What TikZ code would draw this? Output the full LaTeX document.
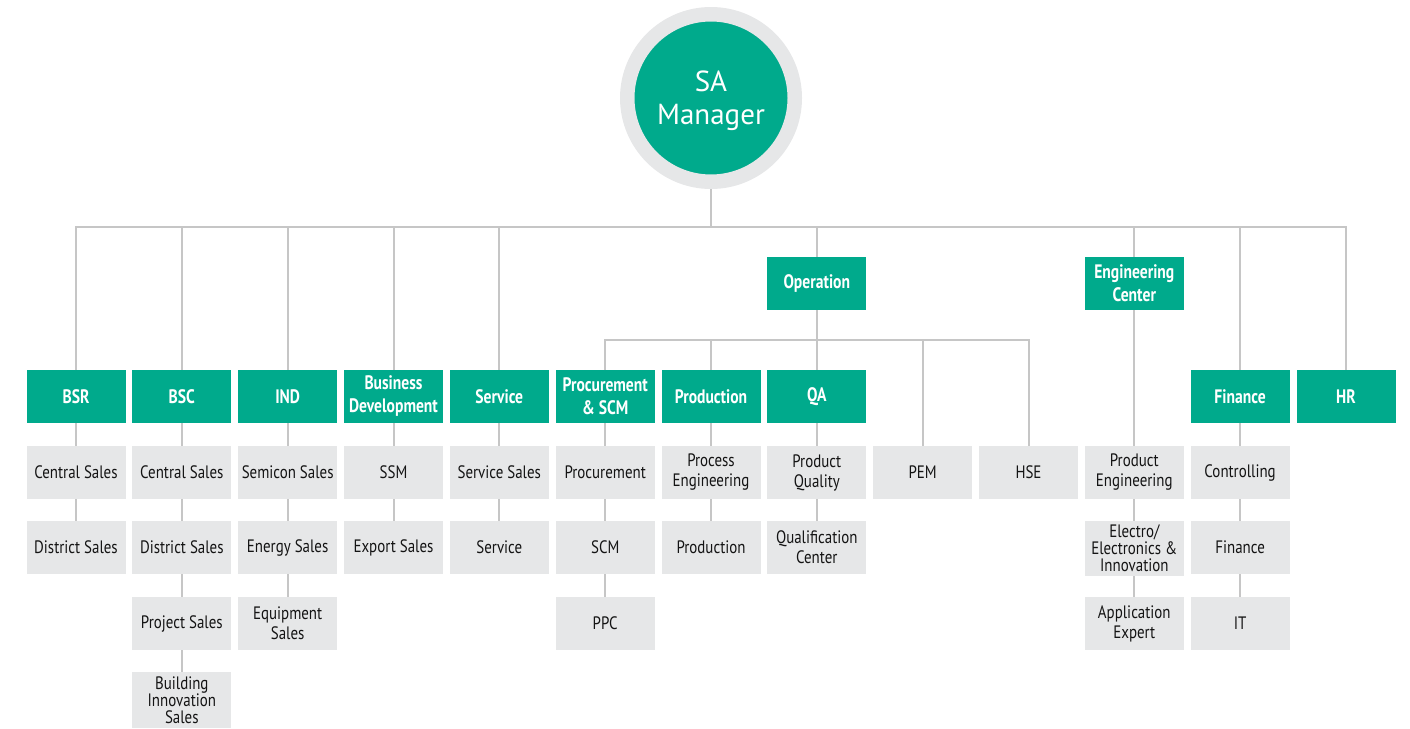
\documentclass[tikz,border=0pt]{standalone}
\usepackage{fontspec}
\setmainfont{PT Sans}
\newfontfamily\boxfont{PT Sans}[FakeStretch=0.83]
\newfontfamily\hdrfont{PT Sans Bold}[FakeStretch=0.8]
\definecolor{sgreen}{HTML}{00AA8C}
\definecolor{sgray}{HTML}{E6E7E8}
\definecolor{sline}{HTML}{C6C6C6}
\definecolor{stext}{HTML}{141414}
\begin{document}
\begin{tikzpicture}[x=1pt,y=-1pt,
  hdr/.style={rectangle, fill=sgreen, text=white, font=\hdrfont\fontsize{19.5}{23}\selectfont,
    minimum width=99pt, minimum height=53pt, inner sep=0pt, outer sep=0pt, align=center},
  sub/.style={rectangle, fill=sgray, text=stext, font=\boxfont\fontsize{18}{20}\selectfont,
    minimum width=99pt, minimum height=53pt, inner sep=0pt, outer sep=0pt, align=center},
  tight/.style={font=\boxfont\fontsize{18}{17}\selectfont},
  conn/.style={draw=sline, line width=2pt}]
\useasboundingbox (0,0) rectangle (1410,728);

\node[circle, fill=sgreen, draw=sgray, line width=14.5pt, minimum size=167.5pt, inner sep=0pt,
  outer sep=7.25pt] (sa) at (711,98) {};
\node[text=white, align=center, font=\fontsize{29}{33}\selectfont, inner sep=0pt] (satext) at (711,101) {SA\\Manager};

% column 0
\node[hdr] (bsr) at (76,396.5) {BSR};
\node[sub] (bsr1) at (76,472.5) {Central Sales};
\node[sub] (bsr2) at (76,547.5) {District Sales};
% column 1
\node[hdr] (bsc) at (181.83,396.5) {BSC};
\node[sub] (bsc1) at (181.83,472.5) {Central Sales};
\node[sub] (bsc2) at (181.83,547.5) {District Sales};
\node[sub] (bsc3) at (181.83,623.5) {Project Sales};
\node[sub, tight, minimum height=56pt] (bsc4) at (181.83,700) {Building\\Innovation\\Sales};
% column 2
\node[hdr] (ind) at (287.66,396.5) {IND};
\node[sub] (ind1) at (287.66,472.5) {Semicon Sales};
\node[sub] (ind2) at (287.66,547.5) {Energy Sales};
\node[sub] (ind3) at (287.66,623.5) {Equipment\\Sales};
% column 3
\node[hdr] (bd) at (393.5,396.5) {Business\\Development};
\node[sub] (bd1) at (393.5,472.5) {SSM};
\node[sub] (bd2) at (393.5,547.5) {Export Sales};
% column 4
\node[hdr] (svc) at (499.3,396.5) {Service};
\node[sub] (svc1) at (499.3,472.5) {Service Sales};
\node[sub] (svc2) at (499.3,547.5) {Service};
% operation
\node[hdr] (op) at (816.8,283.5) {Operation};
\node[hdr] (pro) at (605.2,396.5) {Procurement\\\& SCM};
\node[sub] (pro1) at (605.2,472.5) {Procurement};
\node[sub] (pro2) at (605.2,547.5) {SCM};
\node[sub] (pro3) at (605.2,623.5) {PPC};
\node[hdr] (prd) at (711,396.5) {Production};
\node[sub] (prd1) at (711,472.5) {Process\\Engineering};
\node[sub] (prd2) at (711,547.5) {Production};
\node[hdr] (qa) at (816.8,396.5) {QA};
\node[sub] (qa1) at (816.8,472.5) {Product\\Quality};
\node[sub] (qa2) at (816.8,547.5) {Qualification\\Center};
\node[sub] (pem) at (922.6,472.5) {PEM};
\node[sub] (hse) at (1028.5,472.5) {HSE};
% engineering center
\node[hdr] (ec) at (1134.3,283.5) {Engineering\\Center};
\node[sub] (ec1) at (1134.3,472.5) {Product\\Engineering};
\node[sub, tight, minimum height=55pt] (ec2) at (1134.3,548.5) {Electro/\\Electronics \&\\Innovation};
\node[sub] (ec3) at (1134.3,623.5) {Application\\Expert};
% finance
\node[hdr] (fin) at (1240.1,396.5) {Finance};
\node[sub] (fin1) at (1240.1,472.5) {Controlling};
\node[sub] (fin2) at (1240.1,547.5) {Finance};
\node[sub] (fin3) at (1240.1,623.5) {IT};
% HR
\node[hdr] (hr) at (1346,396.5) {HR};

% connectors
\coordinate (bar) at (711,227);
\coordinate (obar) at (711,340);
\draw[conn] (sa.south) -- (sa.south |- bar);
\draw[conn] (bsr.north) -- (bsr.north |- bar) -- (hr.north |- bar) -- (hr.north);
\foreach \n in {bsc,ind,bd,svc,op,ec,fin}
  \draw[conn] (\n.north |- bar) -- (\n.north);
\draw[conn] (op.south) -- (op.south |- obar);
\draw[conn] (pro.north) -- (pro.north |- obar) -- (hse.north |- obar) -- (hse.north);
\foreach \n in {prd,qa,pem}
  \draw[conn] (\n.north |- obar) -- (\n.north);
\draw[conn] (ec) -- (ec1);
\draw[conn] (bsr) -- (bsr1); \draw[conn] (bsr1) -- (bsr2);
\draw[conn] (bsc) -- (bsc1); \draw[conn] (bsc1) -- (bsc2); \draw[conn] (bsc2) -- (bsc3); \draw[conn] (bsc3) -- (bsc4);
\draw[conn] (ind) -- (ind1); \draw[conn] (ind1) -- (ind2); \draw[conn] (ind2) -- (ind3);
\draw[conn] (bd) -- (bd1); \draw[conn] (bd1) -- (bd2);
\draw[conn] (svc) -- (svc1); \draw[conn] (svc1) -- (svc2);
\draw[conn] (pro) -- (pro1); \draw[conn] (pro1) -- (pro2); \draw[conn] (pro2) -- (pro3);
\draw[conn] (prd) -- (prd1); \draw[conn] (prd1) -- (prd2);
\draw[conn] (qa) -- (qa1); \draw[conn] (qa1) -- (qa2);
\draw[conn] (ec1) -- (ec2); \draw[conn] (ec2) -- (ec3);
\draw[conn] (fin) -- (fin1); \draw[conn] (fin1) -- (fin2); \draw[conn] (fin2) -- (fin3);
\end{tikzpicture}
\end{document}
